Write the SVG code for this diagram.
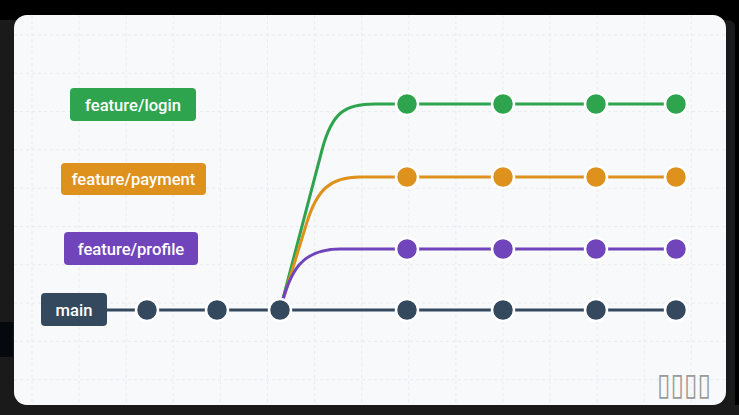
<svg xmlns="http://www.w3.org/2000/svg" width="739" height="415" viewBox="0 0 739 415">
  <defs>
    <style>
      .grid line { stroke: #e9ebee; stroke-width: 1; stroke-dasharray: 3 3; }
      .lbl { font-family: Roboto, "Liberation Sans", Arial, sans-serif; font-size: 16.6px; font-weight: 500; fill: #ffffff; text-anchor: middle; }
      .edge { fill: none; stroke-width: 3; stroke-linecap: round; }
      .commit { stroke: #ffffff; stroke-width: 2.5; }
      .g { stroke: #2ea44f; } .gf { fill: #2ea44f; }
      .o { stroke: #de911d; } .of { fill: #de911d; }
      .p { stroke: #7045bb; } .pf { fill: #7045bb; }
      .m { stroke: #34495e; } .mf { fill: #34495e; }
    </style>
    <clipPath id="cardClip">
      <rect x="14" y="15" width="712" height="390" rx="13"/>
    </clipPath>
  </defs>

  <!-- backdrop -->
  <rect width="739" height="415" fill="#000000"/>
  <path d="M0,20 H727 Q735,20 735,28 V405 H739 V415 H0 Z" fill="#1a1a1a"/>
  <rect x="0" y="322" width="13" height="35" fill="#05090d"/>

  <!-- card -->
  <rect x="14" y="15" width="712" height="390" rx="13" fill="#f8f9fa"/>
  <g class="grid" clip-path="url(#cardClip)">
    <line x1="32" y1="15" x2="32" y2="405"/>
    <line x1="79.1" y1="15" x2="79.1" y2="405"/>
    <line x1="126.2" y1="15" x2="126.2" y2="405"/>
    <line x1="173.3" y1="15" x2="173.3" y2="405"/>
    <line x1="220.4" y1="15" x2="220.4" y2="405"/>
    <line x1="267.5" y1="15" x2="267.5" y2="405"/>
    <line x1="314.6" y1="15" x2="314.6" y2="405"/>
    <line x1="361.7" y1="15" x2="361.7" y2="405"/>
    <line x1="408.8" y1="15" x2="408.8" y2="405"/>
    <line x1="455.9" y1="15" x2="455.9" y2="405"/>
    <line x1="503" y1="15" x2="503" y2="405"/>
    <line x1="550.1" y1="15" x2="550.1" y2="405"/>
    <line x1="597.2" y1="15" x2="597.2" y2="405"/>
    <line x1="644.3" y1="15" x2="644.3" y2="405"/>
    <line x1="691.4" y1="15" x2="691.4" y2="405"/>
    <line x1="14" y1="35" x2="726" y2="35"/>
    <line x1="14" y1="73.3" x2="726" y2="73.3"/>
    <line x1="14" y1="111.6" x2="726" y2="111.6"/>
    <line x1="14" y1="149.9" x2="726" y2="149.9"/>
    <line x1="14" y1="188.2" x2="726" y2="188.2"/>
    <line x1="14" y1="226.5" x2="726" y2="226.5"/>
    <line x1="14" y1="264.8" x2="726" y2="264.8"/>
    <line x1="14" y1="303.1" x2="726" y2="303.1"/>
    <line x1="14" y1="341.4" x2="726" y2="341.4"/>
    <line x1="14" y1="379.7" x2="726" y2="379.7"/>
  </g>

  <!-- connectors -->
  <g id="connectors">
    <path class="edge m" d="M107,310 H676"/>
    <path class="edge g" d="M280,310 L322,150 C332,112 345,104 375,104 H676"/>
    <path class="edge o" d="M280,310 L307,222 C317,190 330,177 360,177 H676"/>
    <path class="edge p" d="M280,310 C290,270 302,249 340,249 H676"/>
  </g>

  <!-- branch labels -->
  <g id="label-feature-login">
    <rect x="70" y="88" width="126" height="33" rx="4" class="gf"/>
    <text class="lbl" x="133" y="110.5">feature/login</text>
  </g>
  <g id="label-feature-payment">
    <rect x="61" y="163" width="145" height="32" rx="4" class="of"/>
    <text class="lbl" x="133.5" y="185">feature/payment</text>
  </g>
  <g id="label-feature-profile">
    <rect x="64" y="232" width="134" height="33" rx="4" class="pf"/>
    <text class="lbl" x="131" y="254.5">feature/profile</text>
  </g>
  <g id="label-main">
    <rect x="41" y="293" width="66" height="33" rx="4" class="mf"/>
    <text class="lbl" x="74" y="316">main</text>
  </g>

  <!-- commits -->
  <g id="main-commits">
    <circle class="commit mf" cx="147" cy="310" r="11"/>
    <circle class="commit mf" cx="217" cy="310" r="11"/>
    <circle class="commit mf" cx="280" cy="310" r="11"/>
    <circle class="commit mf" cx="407" cy="310" r="11"/>
    <circle class="commit mf" cx="503" cy="310" r="11"/>
    <circle class="commit mf" cx="596" cy="310" r="11"/>
    <circle class="commit mf" cx="676" cy="310" r="11"/>
  </g>
  <g id="login-commits">
    <circle class="commit gf" cx="407" cy="104" r="11"/>
    <circle class="commit gf" cx="503" cy="104" r="11"/>
    <circle class="commit gf" cx="596" cy="104" r="11"/>
    <circle class="commit gf" cx="676" cy="104" r="11"/>
  </g>
  <g id="payment-commits">
    <circle class="commit of" cx="407" cy="177" r="11"/>
    <circle class="commit of" cx="503" cy="177" r="11"/>
    <circle class="commit of" cx="596" cy="177" r="11"/>
    <circle class="commit of" cx="676" cy="177" r="11"/>
  </g>
  <g id="profile-commits">
    <circle class="commit pf" cx="407" cy="249" r="11"/>
    <circle class="commit pf" cx="503" cy="249" r="11"/>
    <circle class="commit pf" cx="596" cy="249" r="11"/>
    <circle class="commit pf" cx="676" cy="249" r="11"/>
  </g>

  <!-- watermark (rendered as missing-glyph boxes) -->
  <text x="657" y="395" textLength="54" lengthAdjust="spacingAndGlyphs" font-family="'DejaVu Sans', sans-serif" font-size="31" fill="#9a9a9a">▯▯▯▯</text>
</svg>
